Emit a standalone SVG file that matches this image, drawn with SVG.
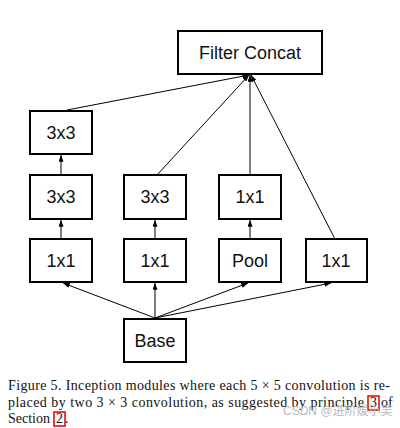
<svg xmlns="http://www.w3.org/2000/svg" width="400" height="428" viewBox="0 0 400 428">
<style>
.box{fill:#fff;stroke:#000;stroke-width:2}
.lbl{font-family:"Liberation Sans",Arial,sans-serif;font-size:18px;fill:#111;text-anchor:middle}
.edge{stroke:#000;stroke-width:1;fill:none;marker-end:url(#ah)}
.cap{font-family:"Liberation Serif","Times New Roman",serif;font-size:14px;fill:#111}
.lnk{fill:none;stroke:#d11;stroke-width:1.6}
</style>
<defs>
<marker id="ah" viewBox="0 0 8 6" refX="8" refY="3" markerWidth="7" markerHeight="5" orient="auto" markerUnits="userSpaceOnUse">
<path d="M0,0 L8,3 L0,6 Z" fill="#000"/>
</marker>
</defs>
<rect width="400" height="428" fill="#fff"/>
<g id="connectors">
<line class="edge" x1="155" y1="318" x2="63" y2="283"/>
<line class="edge" x1="155" y1="318" x2="155" y2="283"/>
<line class="edge" x1="155" y1="318" x2="248" y2="283"/>
<line class="edge" x1="155" y1="318" x2="331" y2="283"/>
<line class="edge" x1="61" y1="239" x2="61" y2="220"/>
<line class="edge" x1="155" y1="239" x2="155" y2="220"/>
<line class="edge" x1="250" y1="239" x2="250" y2="220"/>
<line class="edge" x1="61" y1="175" x2="61" y2="155"/>
<line class="edge" x1="67" y1="110" x2="249" y2="75"/>
<line class="edge" x1="157" y1="175" x2="249" y2="75"/>
<line class="edge" x1="250" y1="175" x2="250" y2="75"/>
<line class="edge" x1="335" y1="239" x2="251" y2="75"/>
</g>
<g id="filter-concat"><rect class="box" x="178" y="31" width="144" height="43"/><text class="lbl" x="250" y="59">Filter Concat</text></g>
<g id="a3x3-top"><rect class="box" x="30" y="111" width="62" height="43"/><text class="lbl" x="61" y="139">3x3</text></g>
<g id="a3x3-mid"><rect class="box" x="30" y="175" width="62" height="44"/><text class="lbl" x="61" y="203">3x3</text></g>
<g id="b3x3"><rect class="box" x="124" y="175" width="62" height="44"/><text class="lbl" x="155" y="203">3x3</text></g>
<g id="c1x1"><rect class="box" x="219" y="175" width="62" height="44"/><text class="lbl" x="250" y="203">1x1</text></g>
<g id="a1x1"><rect class="box" x="30" y="239" width="62" height="43"/><text class="lbl" x="61" y="267">1x1</text></g>
<g id="b1x1"><rect class="box" x="124" y="239" width="62" height="43"/><text class="lbl" x="155" y="267">1x1</text></g>
<g id="pool"><rect class="box" x="219" y="239" width="62" height="43"/><text class="lbl" x="250" y="267">Pool</text></g>
<g id="d1x1"><rect class="box" x="306" y="239" width="61" height="43"/><text class="lbl" x="336" y="267">1x1</text></g>
<g id="base"><rect class="box" x="124" y="319" width="62" height="43"/><text class="lbl" x="155" y="347">Base</text></g>
<g id="caption">
<text class="cap" x="8" y="390" textLength="382" lengthAdjust="spacing">Figure 5. Inception modules where each 5 × 5 convolution is re-</text>
<text class="cap" x="8" y="407" textLength="356" lengthAdjust="spacing">placed by two 3 × 3 convolution, as suggested by principle</text>
<rect class="lnk" x="368" y="396" width="11" height="14"/>
<text class="cap" x="370" y="407">3</text>
<text class="cap" x="381" y="407">of</text>
<text class="cap" x="8" y="423">Section</text>
<rect class="lnk" x="54" y="412" width="11" height="14"/>
<text class="cap" x="56" y="423">2</text>
<text class="cap" x="65" y="423">.</text>
<text x="283" y="415" font-family="Liberation Sans,'Noto Sans CJK SC',sans-serif" font-size="12" fill="#bbb">CSDN @进阶媛小吴</text>
</g>
</svg>
